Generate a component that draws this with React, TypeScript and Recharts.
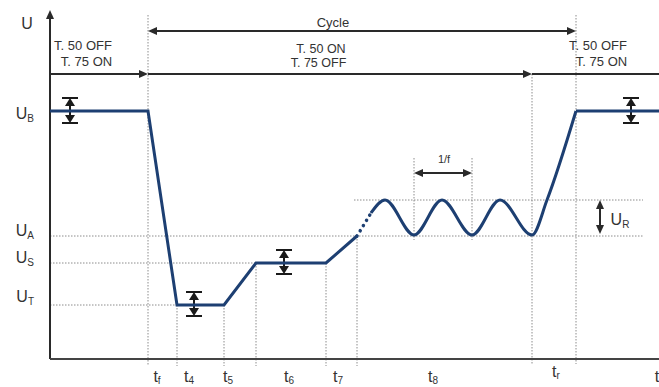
import React from 'react';
import { ComposedChart, Line, XAxis, YAxis, ReferenceLine, ReferenceDot } from 'recharts';

const FONT = '"Liberation Sans", Arial, Helvetica, sans-serif';
const NAVY = '#1d3f72';
const INK = '#333333';
const GRID = '#8c8c8c';

// ---- waveform (time units, voltage units) ----
const rampLine = [
  { x: 0, y: 248 }, { x: 98, y: 248 }, { x: 127, y: 54 }, { x: 174, y: 54 },
  { x: 206, y: 96 }, { x: 276, y: 96 }, { x: 307, y: 123 },
];
const gapLine = [{ x: 307, y: 123 }, { x: 321, y: 146 }];
const rippleLine = [
  { x: 321, y: 146 }, { x: 335, y: 159 }, { x: 364, y: 124 }, { x: 392, y: 159 },
  { x: 422, y: 124 }, { x: 450, y: 159 }, { x: 482, y: 124 }, { x: 497, y: 159 },
  { x: 526, y: 248 },
];
const returnLine = [{ x: 526, y: 248 }, { x: 609, y: 248 }];

// ---- axis labels ----
const levelNames = ['B', 'A', 'S', 'T'];
const levelLabelY = [245, 128, 101, 62];
const timeNames = ['f', '4', '5', '6', '7', '8', 'r', ''];
const timeLabelX = [107, 139, 178, 239, 288, 383, 506, 607];
const timeLabelLift = [0, 0, 0, 0, 0, 0, 5, 0];

// ---- guides ----
const guideV = [
  { x: 98, y1: 344, y2: -7 }, { x: 526, y1: 344, y2: -5 }, { x: 127, y1: 54, y2: -7 },
  { x: 174, y1: 54, y2: -7 }, { x: 206, y1: 96, y2: -7 }, { x: 276, y1: 96, y2: -7 },
  { x: 307, y1: 123, y2: -7 }, { x: 482, y1: 285, y2: -5 }, { x: 364, y1: 201, y2: 119 },
  { x: 422, y1: 201, y2: 119 },
];
const guideH = [
  { y: 123, x1: 0, x2: 593 }, { y: 96, x1: 0, x2: 206 }, { y: 54, x1: 0, x2: 127 },
  { y: 159, x1: 304, x2: 593 },
];

// ---- arrows ----
const arrows = [
  { x1: 98, y1: 328, x2: 526, y2: 328, start: true, end: true },
  { x1: 0, y1: 285, x2: 98, y2: 285, start: false, end: true },
  { x1: 98, y1: 285, x2: 482, y2: 285, start: false, end: true },
  { x1: 482, y1: 285, x2: 609, y2: 285, start: false, end: false },
  { x1: 364, y1: 186, x2: 422, y2: 186, start: true, end: true },
  { x1: 550, y1: 159, x2: 550, y2: 125, start: true, end: true },
  { x1: 0, y1: 0, x2: 0, y2: 349, start: false, end: true },
];
const tolerances = [
  { x: 20, top: 261, bottom: 236 }, { x: 144, top: 67, bottom: 43 },
  { x: 234, top: 109, bottom: 85 }, { x: 581, top: 261, bottom: 236 },
];

// ---- notes ----
const notes = [
  { x: 33, y: 314, text: 'T. 50 OFF', size: 13 },
  { x: 36.5, y: 298, text: 'T. 75 ON', size: 13 },
  { x: 283, y: 337, text: 'Cycle', size: 13 },
  { x: 271, y: 310, text: 'T. 50 ON', size: 12.5 },
  { x: 268.5, y: 296, text: 'T. 75 OFF', size: 12.5 },
  { x: 548, y: 314, text: 'T. 50 OFF', size: 13 },
  { x: 551.5, y: 298, text: 'T. 75 ON', size: 13 },
  { x: 394, y: 200, text: '1/f', size: 11 },
];
const subNotes = [
  { x: -23, y: 335, main: 'U', sub: '' },
  { x: 570, y: 139, main: 'U', sub: 'R' },
];

function makeArrow(start: boolean, end: boolean, caps: boolean, L = 9, W = 4, color = '#2a2a2a', sw = 2) {
  return (p: any) => {
    const { x1, y1, x2, y2 } = p;
    const dx = x2 - x1, dy = y2 - y1;
    const len = Math.hypot(dx, dy) || 1;
    const ux = dx / len, uy = dy / len, nx = -uy, ny = ux;
    const head = (tx: number, ty: number, sx: number, sy: number) => (
      <polygon
        points={`${tx},${ty} ${tx - sx * L + nx * W},${ty - sy * L + ny * W} ${tx - sx * L - nx * W},${ty - sy * L - ny * W}`}
        fill={color}
      />
    );
    const ax = start ? x1 + ux * L * 0.8 : x1;
    const ay = start ? y1 + uy * L * 0.8 : y1;
    const bx = end ? x2 - ux * L * 0.8 : x2;
    const by = end ? y2 - uy * L * 0.8 : y2;
    const C = 8;
    return (
      <g>
        <line x1={ax} y1={ay} x2={bx} y2={by} stroke={color} strokeWidth={sw} />
        {start && head(x1, y1, -ux, -uy)}
        {end && head(x2, y2, ux, uy)}
        {caps && (
          <>
            <line x1={x1 - nx * C} y1={y1 - ny * C} x2={x1 + nx * C} y2={y1 + ny * C} stroke={color} strokeWidth={2} />
            <line x1={x2 - nx * C} y1={y2 - ny * C} x2={x2 + nx * C} y2={y2 + ny * C} stroke={color} strokeWidth={2} />
          </>
        )}
      </g>
    );
  };
}

const YTick = (p: any) => {
  const i = levelLabelY.indexOf(p.payload.value);
  return (
    <text x={p.x} y={p.y + 5} textAnchor="end" fontFamily={FONT} fill={INK}>
      <tspan fontSize={16}>U</tspan>
      <tspan fontSize={10} dy={3}>{levelNames[i]}</tspan>
    </text>
  );
};

const XTick = (p: any) => {
  const i = timeLabelX.indexOf(p.payload.value);
  return (
    <text x={p.x} y={p.y + 23 - timeLabelLift[i]} textAnchor="middle" fontFamily={FONT} fill={INK}>
      <tspan fontSize={16}>t</tspan>
      {timeNames[i] ? <tspan fontSize={10} dy={2}>{timeNames[i]}</tspan> : null}
    </text>
  );
};

export default function App() {
  return (
    <div style={{ position: 'absolute', left: 0, top: 0, background: '#fff' }}>
      <ComposedChart width={659} height={387} margin={{ top: 12, right: 0, bottom: 0, left: 0 }}>
        <XAxis
          type="number"
          dataKey="x"
          domain={[0, 609]}
          allowDataOverflow
          height={28}
          ticks={timeLabelX}
          interval={0}
          tickLine={false}
          tickSize={0}
          tickMargin={0}
          axisLine={{ stroke: '#444', strokeWidth: 2 }}
          tick={<XTick />}
        />
        <YAxis
          type="number"
          dataKey="y"
          domain={[0, 347]}
          allowDataOverflow
          width={50}
          ticks={levelLabelY}
          interval={0}
          tickLine={false}
          tickSize={0}
          tickMargin={16}
          axisLine={false}
          tick={<YTick />}
        />
        {guideV.map((g, i) => (
          <ReferenceLine
            key={'gv' + i}
            segment={[{ x: g.x, y: g.y1 }, { x: g.x, y: g.y2 }]}
            stroke={GRID}
            strokeWidth={1}
            strokeDasharray="1.5 1.5"
            ifOverflow="visible"
          />
        ))}
        {guideH.map((g, i) => (
          <ReferenceLine
            key={'gh' + i}
            segment={[{ x: g.x1, y: g.y }, { x: g.x2, y: g.y }]}
            stroke={GRID}
            strokeWidth={1}
            strokeDasharray="1.5 1.5"
            ifOverflow="visible"
          />
        ))}
        {arrows.map((a, i) => (
          <ReferenceLine
            key={'ar' + i}
            segment={[{ x: a.x1, y: a.y1 }, { x: a.x2, y: a.y2 }]}
            ifOverflow="visible"
            shape={makeArrow(a.start, a.end, false)}
          />
        ))}
        {tolerances.map((t, i) => (
          <ReferenceLine
            key={'tl' + i}
            segment={[{ x: t.x, y: t.top }, { x: t.x, y: t.bottom }]}
            ifOverflow="visible"
            shape={makeArrow(true, true, true, 8, 5, '#1a1a1a', 2)}
          />
        ))}
        <Line data={rampLine} dataKey="y" type="linear" stroke={NAVY} strokeWidth={3} dot={false} isAnimationActive={false} />
        <Line data={gapLine} dataKey="y" type="linear" stroke={NAVY} strokeWidth={3.5} strokeDasharray="0.1 6" strokeLinecap="round" dot={false} isAnimationActive={false} />
        <Line data={rippleLine} dataKey="y" type="monotone" stroke={NAVY} strokeWidth={3} dot={false} isAnimationActive={false} />
        <Line data={returnLine} dataKey="y" type="linear" stroke={NAVY} strokeWidth={3} dot={false} isAnimationActive={false} />
        {notes.map((n, i) => (
          <ReferenceDot
            key={'n' + i}
            x={n.x}
            y={n.y}
            r={0}
            ifOverflow="visible"
            shape={(p: any) => (
              <text x={p.cx} y={p.cy} textAnchor="middle" dominantBaseline="central" fontFamily={FONT} fontSize={n.size} fill={INK}>
                {n.text}
              </text>
            )}
          />
        ))}
        {subNotes.map((n, i) => (
          <ReferenceDot
            key={'s' + i}
            x={n.x}
            y={n.y}
            r={0}
            ifOverflow="visible"
            shape={(p: any) => (
              <text x={p.cx} y={p.cy + 5} textAnchor="middle" fontFamily={FONT} fill={INK}>
                <tspan fontSize={16}>{n.main}</tspan>
                {n.sub ? <tspan fontSize={10} dy={3}>{n.sub}</tspan> : null}
              </text>
            )}
          />
        ))}
      </ComposedChart>
    </div>
  );
}
